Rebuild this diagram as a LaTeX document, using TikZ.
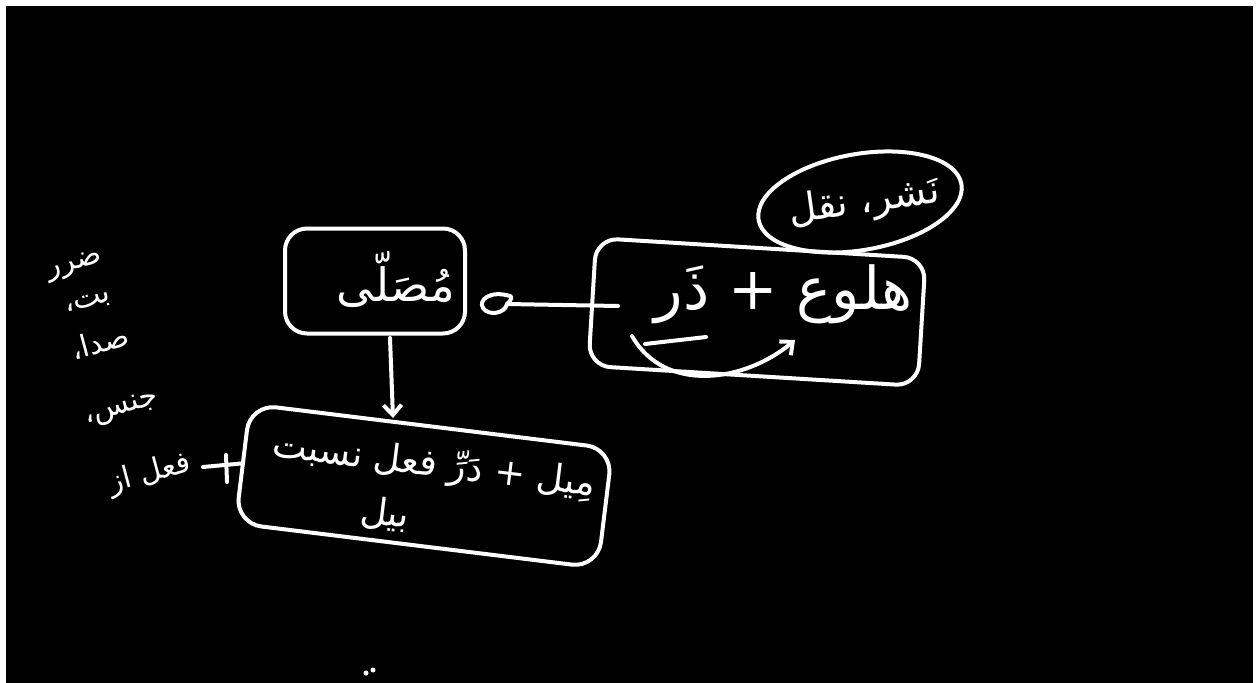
\documentclass[tikz,border=0pt]{standalone}
\usepackage{fontspec}
\newfontfamily\arabicfont[Script=Arabic]{DejaVu Sans}
\TeXXeTstate=1
\usetikzlibrary{shapes.geometric,arrows.meta}
\newcommand{\artxt}[1]{\beginR #1\endR}
\begin{document}
\begin{tikzpicture}[x=1pt,y=-1pt,
  ink/.style={draw=white, line width=4pt, line cap=round, line join=round},
  lbl/.style={text=white, font=\arabicfont\fontsize{37}{42}\selectfont, inner sep=0pt},
  sidelbl/.style={text=white, font=\arabicfont\fontsize{30}{34}\selectfont, inner sep=0pt, rotate=15},
  tip/.style={-{Straight Barb[length=10pt,width=18pt]}}]
\fill[white] (0,0) rectangle (1259,683);
\fill[black] (6,6) rectangle (1253,683);
\useasboundingbox (0,0) rectangle (1259,683);

% right box and ellipse
\node[ink, rounded corners=22pt, minimum width=330pt, minimum height=128pt, rotate=-3.5] (rbox) at (757,312) {};
\node[ink, ellipse, minimum width=206pt, minimum height=96pt, rotate=10] (ell) at (860,202) {};
\node[lbl, rotate=8, font=\arabicfont\fontsize{39}{44}\selectfont] (elltxt) at (864,203) {\artxt{نَشر، نقل}};
\node[lbl, font=\arabicfont\fontsize{59}{64}\selectfont] (rtxt) at (784,294) {\artxt{هلوع + ذَر}};
\coordinate (ca) at (632,336);
\coordinate (cb) at (795,340);
\draw[ink, tip] (ca) .. controls (665,394) and (745,382) .. (cb);
\draw[ink] (645,344) -- (706,337);

% left box
\node[ink, rounded corners=22pt, minimum width=180pt, minimum height=105pt] (lbox) at (375,281) {};
\node[lbl, font=\arabicfont\fontsize{46}{52}\selectfont] (ltxt) at (396,280) {\artxt{مُصَلّی}};

% connector right box -> left box with loop head
\coordinate (lh) at (507,304);
\coordinate (rin) at (618,306);
\draw[ink] (rin) -- (lh);
\draw[ink] (lh) .. controls (512,300) and (512,296) .. (510,296)
  .. controls (490,290) and (478,300) .. (483,308)
  .. controls (488,316) and (505,314) .. (lh);

% bottom box
\node[ink, rounded corners=26pt, minimum width=365pt, minimum height=120pt, rotate=-7] (bbox) at (424,486) {};
\node[lbl, rotate=-7] (btxt1) at (434,466) {\artxt{مِیل + دَرِّ فعل نسبت}};
\node[lbl, rotate=-7] (btxt2) at (385,514) {\artxt{بیل}};

% down arrow
\coordinate (da1) at (390,338);
\coordinate (da2) at (393,418);
\draw[ink, tip] (da1) -- (da2);

% plus and side words
\coordinate (pl) at (203,467);
\draw[ink] (pl) -- (bbox.west);
\draw[ink] (226,455) -- (227,482);
\node[sidelbl] (w1) at (150,474) {\artxt{فعل از}};
\node[sidelbl] (w2) at (122,410) {\artxt{جنس،}};
\node[sidelbl] (w3) at (100,342) {\artxt{صدا،}};
\node[sidelbl] (w4) at (88,303) {\artxt{بت،}};
\node[sidelbl] (w5) at (75,266) {\artxt{ضرر}};

% two dots at bottom
\fill[white] (366,673) circle (2.5pt);
\fill[white] (373,670) circle (2.5pt);
\end{tikzpicture}
\end{document}
